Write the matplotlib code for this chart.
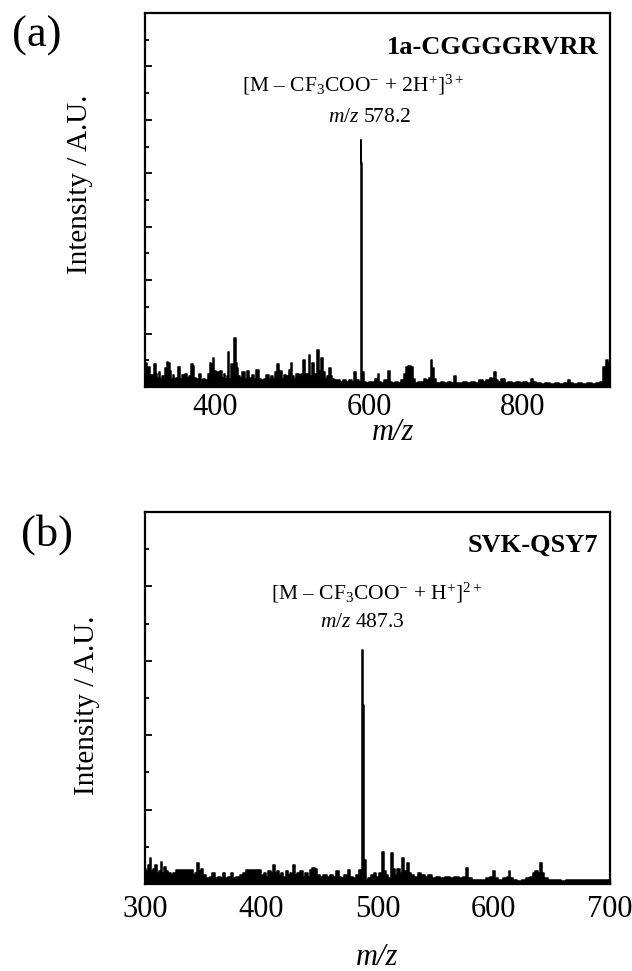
import matplotlib
matplotlib.use("Agg")
import matplotlib.pyplot as plt
from matplotlib.ticker import MultipleLocator

plt.rcParams['font.family'] = ['Liberation Serif', 'DejaVu Serif']
plt.rcParams['mathtext.fontset'] = 'custom'
plt.rcParams['mathtext.rm'] = 'Liberation Serif'
plt.rcParams['mathtext.it'] = 'Liberation Serif:italic'
plt.rcParams['mathtext.bf'] = 'Liberation Serif:bold'

# ---------------- data (a) ----------------
mz_a = [309, 310, 312, 314, 316, 318, 320, 322, 324, 326, 328, 330, 333, 336, 338, 340, 342, 344,
        346, 348, 351, 354, 356, 359, 362, 365, 368, 370, 372, 374, 377, 380, 383, 386, 389, 392,
        394, 396, 398, 400, 402, 404, 406, 408, 410, 412, 414, 416, 418, 419.5, 422, 424, 426,
        427.5, 429, 431, 434, 437, 440, 443, 446, 449, 452, 455, 458, 462, 465, 468, 471, 474,
        477, 480, 482, 484, 486, 488, 491, 494, 497, 499, 501, 504, 507, 510, 513, 516, 517,
        520, 523, 524.5, 527, 529, 531, 534, 535.5, 537, 539, 540.5, 542, 544, 546, 549, 551,
        553, 556, 560, 564, 568, 572, 576, 580, 582, 583.5, 586, 588.5, 589.5, 590.5, 591.5,
        592.5, 594, 598, 602, 606, 610, 612, 614, 618, 622, 626, 628, 632, 636, 640, 644, 647,
        650, 652, 654, 656, 658, 661, 665, 669, 673, 676, 679, 681, 683, 685, 688, 692, 696,
        700, 704, 708, 712, 715, 720, 725, 730, 735, 740, 745, 750, 755, 758, 761, 764, 766,
        770, 774, 778, 783, 788, 793, 798, 803, 808, 812, 815, 820, 826, 832, 838, 844, 850,
        856, 860, 863, 868, 874, 880, 886, 892, 898, 903, 905, 907, 909, 911, 913]
int_a = [0.5, 0.9, 0.6, 0.75, 0.4, 0.45, 0.3, 0.85, 0.5, 0.35, 0.55, 0.3, 0.4, 0.7, 0.95, 0.9, 0.6, 0.3,
         0.45, 0.3, 0.35, 0.75, 0.3, 0.45, 0.5, 0.35, 0.4, 0.85, 0.8, 0.35, 0.3, 0.5, 0.25, 0.3, 0.25, 0.5,
         0.9, 0.85, 1.1, 0.6, 0.35, 0.55, 0.3, 0.6, 0.35, 0.5, 0.3, 0.4, 1.3, 0.3, 0.85, 0.6, 1.83,
         0.9, 0.7, 0.4, 0.35, 0.55, 0.3, 0.6, 0.35, 0.45, 0.3, 0.65, 0.3, 0.25, 0.3, 0.45, 0.3, 0.4,
         0.3, 0.55, 0.85, 0.5, 0.6, 0.3, 0.45, 0.4, 0.65, 0.9, 0.4, 0.3, 0.5, 0.45, 0.5, 1.0, 0.4,
         0.5, 1.2, 0.4, 0.9, 0.4, 0.5, 1.39, 0.5, 0.6, 1.1, 0.45, 0.57, 0.3, 0.4, 0.7, 0.4,
         0.3, 0.25, 0.25, 0.2, 0.25, 0.2, 0.25, 0.2, 0.55, 0.2, 0.25, 0.2, 9.25, 8.4, 0.3,
         0.55, 0.2, 0.15, 0.2, 0.2, 0.3, 0.5, 0.2, 0.15, 0.25, 0.6, 0.2, 0.15, 0.2, 0.15, 0.25, 0.5,
         0.75, 0.8, 0.8, 0.75, 0.3, 0.15, 0.2, 0.2, 0.3, 0.25, 0.35, 1.0, 0.7, 0.3, 0.15, 0.15, 0.2,
         0.15, 0.2, 0.15, 0.4, 0.15, 0.15, 0.2, 0.15, 0.2, 0.15, 0.25, 0.2, 0.25, 0.35, 0.3, 0.57, 0.25,
         0.2, 0.3, 0.15, 0.2, 0.15, 0.2, 0.15, 0.2, 0.15, 0.3, 0.2, 0.15, 0.1, 0.15, 0.1, 0.15, 0.1,
         0.15, 0.25, 0.15, 0.1, 0.15, 0.1, 0.15, 0.1, 0.15, 0.2, 0.75, 0.6, 1.0, 0.9, 0.8]

# ---------------- data (b) ----------------
mz_b = [300, 302, 303.5, 305, 306, 308, 309.5, 311, 313, 314, 315.5, 317, 319, 321, 323, 325, 328, 332,
        336, 340, 342, 344, 346, 347.5, 349, 351, 354, 357, 359, 361, 364, 366, 368, 370, 373, 375,
        377, 380, 383, 386, 388, 392, 396, 399, 401, 403, 405, 407, 409, 411, 412.5, 414, 416, 418,
        420, 422, 424, 426, 428.5, 430, 432, 435, 437, 439, 441, 443, 445, 447, 449, 452, 455, 458,
        460, 463, 466, 467.5, 470, 473, 476, 477.5, 480, 483, 485, 486.5, 487.3, 488.1, 489, 489.8,
        490.8, 493, 496, 498, 500, 502, 505, 506, 508, 510, 513, 514, 516, 518, 520, 522.5, 523.5,
        526.5, 527.5, 530, 533, 536, 539, 542, 545, 548, 552, 556, 560, 564, 568, 572, 575, 577.5,
        579, 583, 587, 591, 595, 598, 600.3, 602, 606, 610, 612, 613.8, 615, 618, 622, 626, 630,
        633, 634.7, 637, 638.5, 640.5, 642, 645, 648, 652, 656, 660, 665, 670, 675, 680, 685, 690,
        695, 700]
int_b = [0.4, 0.35, 0.5, 0.69, 0.35, 0.4, 0.51, 0.3, 0.35, 0.6, 0.3, 0.45, 0.35, 0.3, 0.25, 0.3, 0.38, 0.38,
         0.38, 0.38, 0.25, 0.3, 0.56, 0.35, 0.4, 0.25, 0.15, 0.2, 0.3, 0.15, 0.2, 0.15, 0.3, 0.15, 0.2, 0.3,
         0.15, 0.2, 0.25, 0.3, 0.38, 0.38, 0.38, 0.38, 0.25, 0.3, 0.2, 0.35, 0.3, 0.5, 0.3, 0.35, 0.25, 0.3,
         0.2, 0.35, 0.25, 0.3, 0.5, 0.25, 0.3, 0.35, 0.2, 0.3, 0.2, 0.38, 0.42, 0.4, 0.25, 0.2, 0.25, 0.2,
         0.25, 0.2, 0.35, 0.2, 0.15, 0.25, 0.38, 0.2, 0.15, 0.25, 0.38, 0.3, 6.29, 4.8, 0.3, 0.65,
         0.1, 0.15, 0.25, 0.3, 0.2, 0.3, 0.87, 0.35, 0.25, 0.15, 0.83, 0.4, 0.25, 0.4, 0.3, 0.71, 0.35,
         0.57, 0.3, 0.25, 0.2, 0.3, 0.25, 0.2, 0.25, 0.15, 0.2, 0.15, 0.2, 0.15, 0.2, 0.15, 0.2, 0.42,
         0.15, 0.1, 0.1, 0.1, 0.15, 0.2, 0.35, 0.15, 0.1, 0.15, 0.2, 0.36, 0.15, 0.1, 0.08, 0.1, 0.15,
         0.2, 0.3, 0.35, 0.3, 0.56, 0.3, 0.15, 0.1, 0.1, 0.12, 0.08, 0.1, 0.12, 0.1, 0.12, 0.1, 0.12,
         0.1, 0.12]

xticks_a = [400, 600, 800]
xticks_b = [300, 400, 500, 600, 700]

fig = plt.figure(figsize=(6.32, 9.71), dpi=100)
W, H = 632, 971

def add_ax(left, top, right, bottom):
    return fig.add_axes([left / W, 1 - bottom / H, (right - left) / W, (bottom - top) / H])

axA = add_ax(145, 13, 610, 387)
axB = add_ax(145, 512, 610, 884)

def style(ax, xlim, ylim, xticks, pad):
    ax.set_xlim(*xlim)
    ax.set_ylim(*ylim)
    ax.set_xticks(xticks)
    ax.yaxis.set_major_locator(MultipleLocator(2))
    ax.yaxis.set_minor_locator(MultipleLocator(1))
    ax.set_yticklabels([])
    ax.tick_params(axis='y', which='major', direction='in', length=5, width=1.3, left=True, right=False)
    ax.tick_params(axis='y', which='minor', direction='in', length=3, width=1.3, left=True, right=False)
    ax.tick_params(axis='x', which='major', direction='in', length=3, width=1.0, labelsize=22, pad=pad)
    for s in ax.spines.values():
        s.set_linewidth(1.6)

for ax, mz, inten in [(axA, mz_a, int_a), (axB, mz_b, int_b)]:
    ax.fill_between(mz, 0, inten, color='black', lw=0, step='mid')
    ax.plot(mz, inten, color='black', lw=1.1, drawstyle='steps-mid')

style(axA, (309, 913), (0, 14), xticks_a, 4)
style(axB, (300, 700), (0, 10), xticks_b, 8)

# annotations (a)
axA.text(0.974, 0.909, '1a-CGGGGRVRR', transform=axA.transAxes, ha='right', va='center',
         fontsize=19, fontweight='bold')
axA.text(579, 11.3, '[M \u2013 CF$_3$COO$^{-}$ + 2H$^{+}$]$^{3+}$', ha='center', va='center', fontsize=15.5)
axA.text(601, 10.07, r'$\mathit{m/z}$ 578.2', ha='center', va='center', fontsize=15.5)

# annotations (b)
axB.text(0.974, 0.911, 'SVK-QSY7', transform=axB.transAxes, ha='right', va='center',
         fontsize=19, fontweight='bold')
axB.text(499.5, 7.82, '[M \u2013 CF$_3$COO$^{-}$ + H$^{+}$]$^{2+}$', ha='center', va='center', fontsize=15.5)
axB.text(487.4, 7.02, r'$\mathit{m/z}$ 487.3', ha='center', va='center', fontsize=15.5)

# panel labels and axis titles
fig.text(37 / W, 1 - 36 / H, '(a)', ha='center', va='center', fontsize=32)
fig.text(47 / W, 1 - 535 / H, '(b)', ha='center', va='center', fontsize=32)
fig.text(80 / W, 1 - 184 / H, 'Intensity / A.U.', rotation=90, ha='center', va='center', fontsize=21)
fig.text(87 / W, 1 - 705 / H, 'Intensity / A.U.', rotation=90, ha='center', va='center', fontsize=21)
fig.text(393 / W, 1 - 433 / H, 'm/z', ha='center', va='center', fontsize=22, style='italic')
fig.text(377 / W, 1 - 957 / H, 'm/z', ha='center', va='center', fontsize=22, style='italic')

fig.savefig('out.png', dpi=100)
